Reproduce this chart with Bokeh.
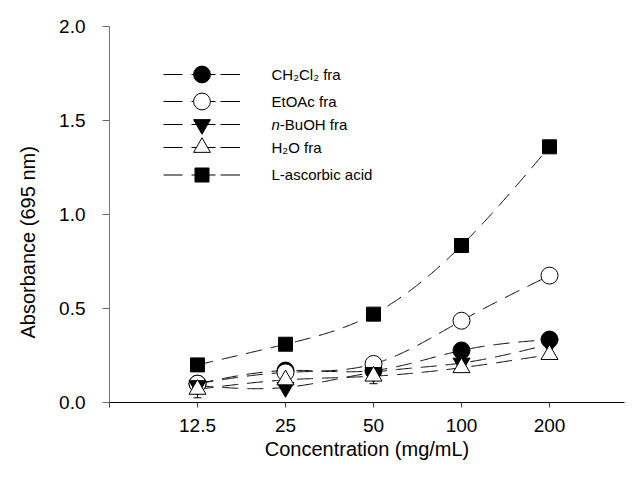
import numpy as np
from bokeh.plotting import figure
from bokeh.models import (Range1d, FixedTicker, PrintfTickFormatter, Legend, LegendItem,
                          Label, Title, ColumnDataSource, Whisker, TeeHead)
from bokeh.embed import file_html
from bokeh.resources import INLINE

# ---------------- data ----------------
conc = [12.5, 25, 50, 100, 200]
conc_labels = ["12.5", "25", "50", "100", "200"]

ch2cl2 = [0.10, 0.17, 0.17, 0.277, 0.335]
etoac = [0.10, 0.16, 0.205, 0.435, 0.675]
buoh = [0.09, 0.08, 0.16, 0.21, 0.31]
h2o = [0.07, 0.12, 0.14, 0.185, 0.255]
ascorbic = [0.20, 0.31, 0.47, 0.835, 1.36]

ch2cl2_err = [0.02, 0.01, 0.01, 0.01, 0.01]
etoac_err = [0.04, 0.01, 0.01, 0.02, 0.01]
buoh_err = [0.02, 0.01, 0.01, 0.01, 0.01]
h2o_err = [0.045, 0.01, 0.04, 0.01, 0.01]
ascorbic_err = [0.01, 0.01, 0.01, 0.01, 0.01]

FONT = "Liberation Sans"


def natural_spline(xk, yk, xx):
    xk = np.asarray(xk, float)
    yk = np.asarray(yk, float)
    n = len(xk)
    h = np.diff(xk)
    A = np.zeros((n, n))
    b = np.zeros(n)
    A[0, 0] = 1.0
    A[-1, -1] = 1.0
    for i in range(1, n - 1):
        A[i, i - 1] = h[i - 1]
        A[i, i] = 2 * (h[i - 1] + h[i])
        A[i, i + 1] = h[i]
        b[i] = 3 * ((yk[i + 1] - yk[i]) / h[i] - (yk[i] - yk[i - 1]) / h[i - 1])
    c = np.linalg.solve(A, b)
    bc = (yk[1:] - yk[:-1]) / h - h * (2 * c[:-1] + c[1:]) / 3
    d = (c[1:] - c[:-1]) / (3 * h)
    idx = np.clip(np.searchsorted(xk, xx) - 1, 0, n - 2)
    dx = xx - xk[idx]
    return yk[idx] + bc[idx] * dx + c[idx] * dx ** 2 + d[idx] * dx ** 3


W, H = 625, 466
BL, BT, BR, FH = 109, 26, 1, 376
FW = W - BL - BR
DEC_PX = 88.0  # pixels per doubling of concentration
x_lo = 6.25
x_hi = x_lo * 2 ** (FW / DEC_PX)

p = figure(width=W, height=H, x_axis_type="log",
           x_range=Range1d(x_lo, x_hi), y_range=Range1d(0, 2.0),
           output_backend="svg", toolbar_location=None,
           min_border_left=BL, min_border_right=BR, min_border_top=BT,
           min_border_bottom=H - BT - FH)
p.outline_line_color = None
p.grid.visible = False
p.background_fill_color = "white"
p.border_fill_color = "white"

# x axis
xa = p.xaxis[0]
xa.ticker = FixedTicker(ticks=[6.25] + conc + [400])
overrides = {6.25: "", 400: ""}
for c, lab in zip(conc, conc_labels):
    overrides[c] = lab
xa.major_label_overrides = overrides
xa.minor_tick_line_color = None
xa.major_tick_in = 0
xa.major_tick_out = 5
xa.major_tick_line_color = "#444444"
xa.axis_line_color = "black"
xa.major_label_text_font = FONT
xa.major_label_text_font_size = "19px"
xa.major_label_text_font_style = "normal"
xa.major_label_text_color = "black"
xa.major_label_standoff = 11
xa.axis_label = "Concentration (mg/mL)"
xa.axis_label_text_font = FONT
xa.axis_label_text_font_size = "20px"
xa.axis_label_text_font_style = "normal"
xa.axis_label_text_color = "black"
xa.axis_label_standoff = 3

# y axis
ya = p.yaxis[0]
ya.ticker = FixedTicker(ticks=[0, 0.5, 1.0, 1.5, 2.0])
ya.formatter = PrintfTickFormatter(format="%.1f")
ya.minor_tick_line_color = None
ya.major_tick_in = 0
ya.major_tick_out = 7
ya.major_tick_line_color = "#666666"
ya.axis_line_color = "#777777"
ya.major_label_text_font = FONT
ya.major_label_text_font_size = "19px"
ya.major_label_text_font_style = "normal"
ya.major_label_text_color = "black"
ya.major_label_standoff = 17

p.add_layout(Title(text="Absorbance (695 nm)", align="left", offset=64, vertical_align="top",
                   standoff=32, text_font=FONT, text_font_size="20px", text_font_style="normal",
                   text_color="black"), "left")

# series
series = [
    ("CH2Cl2", ch2cl2, ch2cl2_err, "circle", "black", 17),
    ("EtOAc", etoac, etoac_err, "circle", "white", 17),
    ("BuOH", buoh, buoh_err, "inverted_triangle", "black", 17),
    ("H2O", h2o, h2o_err, "triangle", "white", 17),
    ("ascorbic", ascorbic, ascorbic_err, "square", "black", 14),
]

lx = np.log(np.array(conc, float))
lxx = np.linspace(lx[0], lx[-1], 300)
for name, vals, err, marker, fill, size in series:
    yy = natural_spline(lx, vals, lxx)
    p.line(np.exp(lxx), yy, line_color="black", line_width=1, line_dash="16 9")

for name, vals, err, marker, fill, size in series:
    src = ColumnDataSource(dict(x=conc, lo=[v - e for v, e in zip(vals, err)],
                                hi=[v + e for v, e in zip(vals, err)]))
    w = Whisker(source=src, base="x", lower="lo", upper="hi", line_color="black", line_width=1,
                upper_head=TeeHead(size=8, line_color="black", line_width=1),
                lower_head=TeeHead(size=8, line_color="black", line_width=1))
    p.add_layout(w)

scatter_rs = []
for name, vals, err, marker, fill, size in series:
    r = p.scatter(conc, vals, marker=marker, size=size, fill_color=fill,
                  line_color="black", line_width=1)
    scatter_rs.append(r)

# legend key line samples: a single-point line (draws nothing in the plot) whose
# dash layout matches the reference key
legend_line_rs = [p.line([conc[0]], [vals[0]], line_color="black", line_width=1,
                         line_dash="19 9 24 5 20")
                  for name, vals, err, marker, fill, size in series]

# legend rows (one legend per row so rows can sit where they do in the reference)
row_centers = [74, 101, 124, 147, 174]  # px from top of the picture
legend_texts = ["CH\u2082Cl\u2082 fra", "EtOAc fra", None, "H\u2082O fra", "L-ascorbic acid"]
fb = BT + FH  # frame bottom in canvas px
for i, (name, vals, err, marker, fill, size) in enumerate(series):
    gh = size / 0.4
    leg = Legend(items=[LegendItem(label=" ", renderers=[legend_line_rs[i], scatter_rs[i]])],
                 location=(54, fb - row_centers[i] - gh / 2),
                 glyph_width=77, glyph_height=int(round(gh)), label_height=int(round(gh)),
                 padding=0, margin=0, spacing=0, border_line_color=None,
                 background_fill_alpha=0, label_text_font_size="1px", label_standoff=0)
    p.add_layout(leg, "center")
    ty = fb - row_centers[i]
    if legend_texts[i] is not None:
        p.add_layout(Label(x=162, y=ty, x_units="screen", y_units="screen", text=legend_texts[i],
                           text_font=FONT, text_font_size="15px", text_baseline="middle",
                           text_align="left", text_color="black"))
    else:
        p.add_layout(Label(x=162, y=ty, x_units="screen", y_units="screen", text="n",
                           text_font=FONT, text_font_size="15px", text_font_style="italic",
                           text_baseline="middle", text_align="left", text_color="black"))
        p.add_layout(Label(x=170.3, y=ty, x_units="screen", y_units="screen", text="-BuOH fra",
                           text_font=FONT, text_font_size="15px", text_baseline="middle",
                           text_align="left", text_color="black"))

open("out.html", "w").write(file_html(p, INLINE))
